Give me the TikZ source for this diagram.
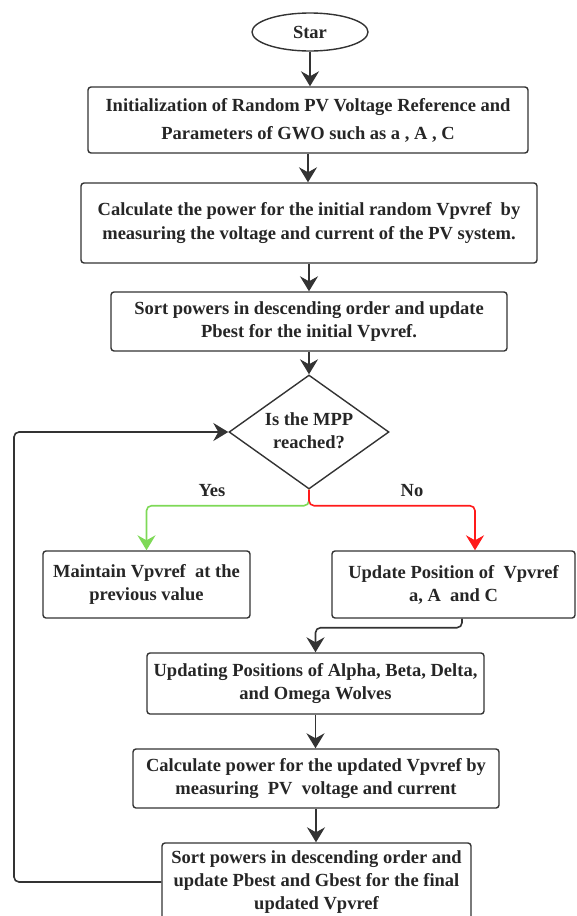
\documentclass[tikz,border=0pt]{standalone}
\usepackage{fontspec}
\setmainfont{Liberation Serif}
\usetikzlibrary{shapes.geometric,arrows.meta}
\definecolor{linec}{HTML}{333333}
\definecolor{yesc}{HTML}{7ED957}
\definecolor{noc}{HTML}{FF1A1A}
\begin{document}
\begin{tikzpicture}[x=1pt,y=-1pt,
  txt/.style={align=center, font=\fontsize{18.5}{23}\selectfont\bfseries, text=black!85},
  box/.style={txt, draw=linec, line width=1.4pt, rounded corners=3pt, inner sep=0pt},
  arr/.style={draw=linec, line width=1.6pt, rounded corners=5pt, -{Stealth[length=15pt,width=18pt,inset=5pt]}},
]
\useasboundingbox (0,0) rectangle (576,916);
\node[txt, draw=linec, line width=1.4pt, ellipse, minimum width=116pt, minimum height=38pt, inner sep=0pt] (star) at (310,32) {Star};
\node[box, minimum width=440pt, minimum height=66pt, font=\fontsize{18.5}{28}\selectfont\bfseries] (b1) at (308,120) {Initialization of Random PV Voltage Reference and\\Parameters of GWO such as a , A , C};
\node[box, minimum width=456pt, minimum height=80pt, font=\fontsize{18.5}{24}\selectfont\bfseries] (b2) at (309,223) {Calculate the power for the initial random Vpvref~ by\\measuring the voltage and current of the PV system.};
\node[box, minimum width=396pt, minimum height=59pt] (b3) at (309,321.5) {Sort powers in descending order and update\\Pbest for the initial Vpvref.};
\node[draw=linec, line width=1.4pt, diamond, minimum width=160pt, minimum height=114pt, inner sep=0pt] (dec) at (309,432) {};
\node[txt] (dect) at (309,431) {Is the MPP\\reached?};
\node[box, minimum width=207pt, minimum height=67pt] (maint) at (146.5,584.5) {Maintain Vpvref~ at the\\previous value};
\node[box, minimum width=243pt, minimum height=67pt] (upd) at (453.5,584.5) {Update Position of~ Vpvref\\a, A~ and C};
\node[box, minimum width=337pt, minimum height=61pt] (b4) at (315.5,683.5) {Updating Positions of Alpha, Beta, Delta,\\and Omega Wolves};
\node[box, minimum width=366pt, minimum height=59pt] (b5) at (316,778.5) {Calculate power for the updated Vpvref by\\measuring~ PV~ voltage and current};
\node[box, minimum width=309pt, minimum height=78pt] (b6) at (316.5,882) {Sort powers in descending order and\\update Pbest and Gbest for the final\\updated Vpvref};
\node[txt] (yes) at (212,491) {Yes};
\node[txt] (no) at (412,491) {No};
\coordinate (lp) at (14,0);
\draw[arr] (star.south) -- (star.south |- b1.north);
\draw[arr] (b1.south) -- (b1.south |- b2.north);
\draw[arr] (b2.south) -- (b2.south |- b3.north);
\draw[arr] (b3.south) -- (b3.south |- dec.north);
\draw[arr, draw=yesc] (dec.south) -- ++(0,16) -| (maint.north);
\draw[arr, draw=noc] (dec.south) -- ++(0,16) -| ([xshift=21.5pt]upd.north);
\draw[arr] ([xshift=8.5pt]upd.south) -- ++(0,9) -| (b4.north);
\draw[arr] (b4.south) -- (b4.south |- b5.north);
\draw[arr] (b5.south) -- (b5.south |- b6.north);
\draw[arr] (b6.west) -- (b6.west -| lp) -- (lp |- dec.west) -- (dec.west);
\end{tikzpicture}
\end{document}
